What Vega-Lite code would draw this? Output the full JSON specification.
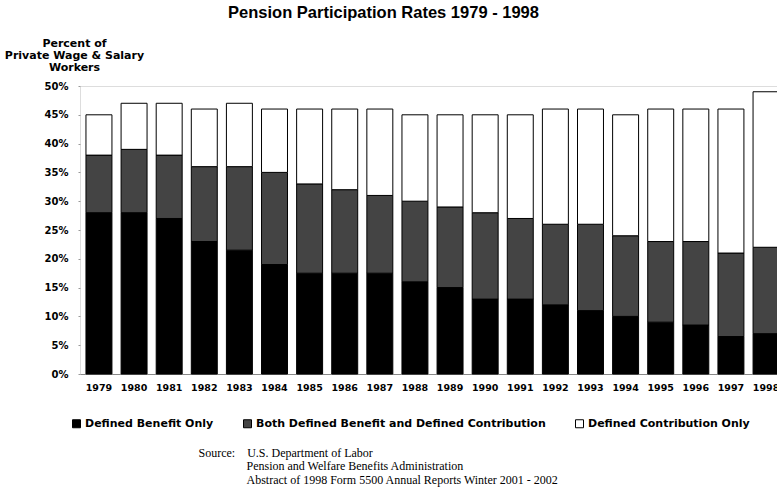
{
  "$schema": "https://vega.github.io/schema/vega-lite/v6.json",
  "width": 697,
  "height": 288,
  "autosize": {"type": "none"},
  "padding": {"left": 80, "top": 86, "right": 0, "bottom": 117},
  "background": "white",
  "title": {"text": "Pension Participation Rates 1979 - 1998", "font": "Liberation Sans", "fontSize": 16.5, "fontWeight": "bold", "color": "#000000", "anchor": "middle", "dx": -45, "dy": -12, "frame": "group"},
  "data": {"values": [
    {"year": "1979", "Defined Benefit Only": 28, "Both Defined Benefit and Defined Contribution": 10, "Defined Contribution Only": 7},
    {"year": "1980", "Defined Benefit Only": 28, "Both Defined Benefit and Defined Contribution": 11, "Defined Contribution Only": 8},
    {"year": "1981", "Defined Benefit Only": 27, "Both Defined Benefit and Defined Contribution": 11, "Defined Contribution Only": 9},
    {"year": "1982", "Defined Benefit Only": 23, "Both Defined Benefit and Defined Contribution": 13, "Defined Contribution Only": 10},
    {"year": "1983", "Defined Benefit Only": 21.5, "Both Defined Benefit and Defined Contribution": 14.5, "Defined Contribution Only": 11},
    {"year": "1984", "Defined Benefit Only": 19, "Both Defined Benefit and Defined Contribution": 16, "Defined Contribution Only": 11},
    {"year": "1985", "Defined Benefit Only": 17.5, "Both Defined Benefit and Defined Contribution": 15.5, "Defined Contribution Only": 13},
    {"year": "1986", "Defined Benefit Only": 17.5, "Both Defined Benefit and Defined Contribution": 14.5, "Defined Contribution Only": 14},
    {"year": "1987", "Defined Benefit Only": 17.5, "Both Defined Benefit and Defined Contribution": 13.5, "Defined Contribution Only": 15},
    {"year": "1988", "Defined Benefit Only": 16, "Both Defined Benefit and Defined Contribution": 14, "Defined Contribution Only": 15},
    {"year": "1989", "Defined Benefit Only": 15, "Both Defined Benefit and Defined Contribution": 14, "Defined Contribution Only": 16},
    {"year": "1990", "Defined Benefit Only": 13, "Both Defined Benefit and Defined Contribution": 15, "Defined Contribution Only": 17},
    {"year": "1991", "Defined Benefit Only": 13, "Both Defined Benefit and Defined Contribution": 14, "Defined Contribution Only": 18},
    {"year": "1992", "Defined Benefit Only": 12, "Both Defined Benefit and Defined Contribution": 14, "Defined Contribution Only": 20},
    {"year": "1993", "Defined Benefit Only": 11, "Both Defined Benefit and Defined Contribution": 15, "Defined Contribution Only": 20},
    {"year": "1994", "Defined Benefit Only": 10, "Both Defined Benefit and Defined Contribution": 14, "Defined Contribution Only": 21},
    {"year": "1995", "Defined Benefit Only": 9, "Both Defined Benefit and Defined Contribution": 14, "Defined Contribution Only": 23},
    {"year": "1996", "Defined Benefit Only": 8.5, "Both Defined Benefit and Defined Contribution": 14.5, "Defined Contribution Only": 23},
    {"year": "1997", "Defined Benefit Only": 6.5, "Both Defined Benefit and Defined Contribution": 14.5, "Defined Contribution Only": 25},
    {"year": "1998", "Defined Benefit Only": 7, "Both Defined Benefit and Defined Contribution": 15, "Defined Contribution Only": 27}
  ]},
  "transform": [
    {"fold": ["Defined Benefit Only", "Both Defined Benefit and Defined Contribution", "Defined Contribution Only"], "as": ["type", "pct"]},
    {"calculate": "indexof(['Defined Benefit Only', 'Both Defined Benefit and Defined Contribution', 'Defined Contribution Only'], datum.type)", "as": "stackRank"}
  ],
  "mark": {"type": "bar", "stroke": "#000000", "strokeWidth": 1},
  "encoding": {
    "x": {
      "field": "year", "type": "ordinal",
      "scale": {"range": [0, 705], "paddingInner": 0.26, "paddingOuter": 0.17},
      "axis": {
        "title": ["Source:\u00a0\u00a0\u00a0\u00a0U.S. Department of Labor", "\u200b\u00a0\u00a0\u00a0\u00a0\u00a0\u00a0\u00a0\u00a0\u00a0\u00a0\u00a0\u00a0\u00a0\u00a0\u00a0\u00a0Pension and Welfare Benefits Administration", "\u200b\u00a0\u00a0\u00a0\u00a0\u00a0\u00a0\u00a0\u00a0\u00a0\u00a0\u00a0\u00a0\u00a0\u00a0\u00a0\u00a0Abstract of 1998 Form 5500 Annual Reports Winter 2001 - 2002"],
        "titleFont": "Liberation Serif", "titleFontWeight": "normal", "titleFontSize": 12, "titleLineHeight": 13.5, "titleColor": "#000000",
        "titleAlign": "left", "titleAnchor": "start", "titleBaseline": "top", "titleAngle": 0, "titleX": 118, "titleY": 73,
        "labelAngle": 0, "labelFont": "DejaVu Sans", "labelFontWeight": "bold", "labelFontSize": 9.5, "labelColor": "#000000", "labelPadding": 8,
        "ticks": false, "domainColor": "#888888", "domainWidth": 1, "grid": false
      }
    },
    "y": {
      "field": "pct", "type": "quantitative", "stack": "zero",
      "scale": {"domain": [0, 50]},
      "axis": {
        "title": ["Percent of", "Private Wage & Salary", "Workers"],
        "titleAngle": 0, "titleAlign": "center", "titleBaseline": "top", "titleX": -6, "titleY": -49,
        "titleFont": "DejaVu Sans", "titleFontSize": 11, "titleFontWeight": "bold", "titleLineHeight": 12, "titleColor": "#000000",
        "values": [0, 5, 10, 15, 20, 25, 30, 35, 40, 45, 50],
        "labelExpr": "datum.value + '%'",
        "labelFont": "DejaVu Sans", "labelFontWeight": "bold", "labelFontSize": 10, "labelColor": "#000000", "labelPadding": 10,
        "domain": false, "ticks": true, "tickSize": 2, "tickColor": "#999999", "grid": false
      }
    },
    "order": {"field": "stackRank", "type": "quantitative", "sort": "ascending"},
    "color": {
      "field": "type", "type": "nominal",
      "sort": ["Defined Benefit Only", "Both Defined Benefit and Defined Contribution", "Defined Contribution Only"],
      "scale": {"domain": ["Defined Benefit Only", "Both Defined Benefit and Defined Contribution", "Defined Contribution Only"], "range": ["#000000", "#444444", "#ffffff"]},
      "legend": {
        "title": null, "orient": "none", "legendX": -9, "legendY": 332, "direction": "horizontal",
        "columnPadding": 27, "symbolType": "square", "symbolSize": 64, "symbolStrokeColor": "#000000", "symbolStrokeWidth": 1,
        "labelFont": "DejaVu Sans", "labelFontWeight": "bold", "labelFontSize": 11, "labelColor": "#000000", "labelOffset": 3, "labelLimit": 400
      }
    }
  }
}
